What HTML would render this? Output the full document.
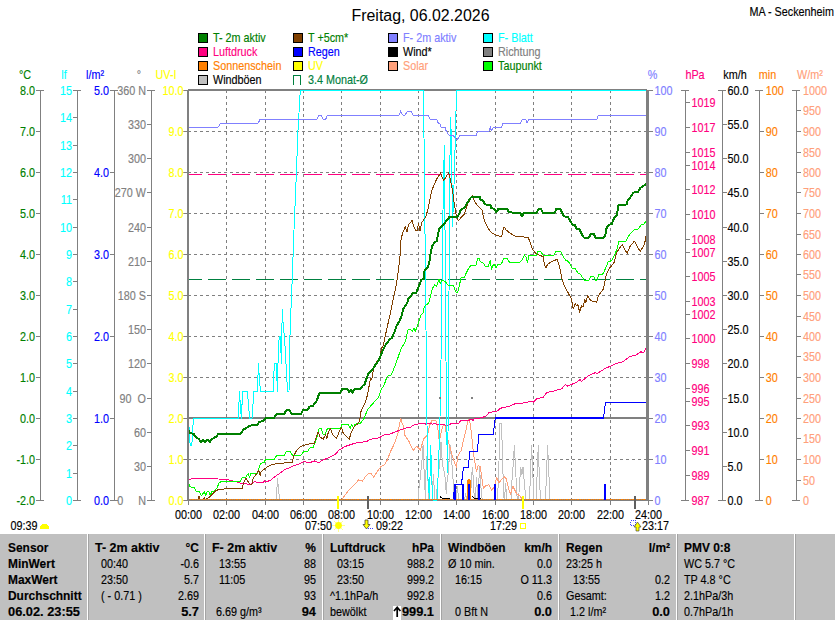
<!DOCTYPE html>
<html><head><meta charset="utf-8"><title>Wetter</title>
<style>
html,body{margin:0;padding:0;background:#fff;}
body{width:835px;height:620px;overflow:hidden;font-family:"Liberation Sans",sans-serif;}
svg{display:block;font-family:"Liberation Sans",sans-serif;}
text{white-space:pre;}
</style></head><body>
<svg width="835" height="620" viewBox="0 0 835 620">
<rect width="835" height="620" fill="#fff"/>
<text transform="translate(420.5 21) scale(0.995 1)" fill="#000" stroke="#000" stroke-width="0" text-anchor="middle" font-size="16" font-weight="normal" >Freitag, 06.02.2026</text>
<text transform="translate(834 16) scale(0.9 1)" fill="#000" stroke="#000" stroke-width="0.15" text-anchor="end" font-size="12" font-weight="normal" >MA - Seckenheim</text>
<rect x="198.5" y="33.5" width="9" height="9" fill="#008000" stroke="#000" stroke-width="1" shape-rendering="crispEdges"/>
<text transform="translate(213 42) scale(0.9 1)" fill="#008000" stroke="#008000" stroke-width="0.15" text-anchor="start" font-size="12" font-weight="normal" >T- 2m aktiv</text>
<rect x="198.5" y="47.5" width="9" height="9" fill="#ff0080" stroke="#000" stroke-width="1" shape-rendering="crispEdges"/>
<text transform="translate(213 56) scale(0.9 1)" fill="#ff0080" stroke="#ff0080" stroke-width="0.15" text-anchor="start" font-size="12" font-weight="normal" >Luftdruck</text>
<rect x="198.5" y="61.5" width="9" height="9" fill="#ff8000" stroke="#000" stroke-width="1" shape-rendering="crispEdges"/>
<text transform="translate(213 70) scale(0.9 1)" fill="#ff8000" stroke="#ff8000" stroke-width="0.15" text-anchor="start" font-size="12" font-weight="normal" >Sonnenschein</text>
<rect x="198.5" y="75.5" width="9" height="9" fill="#c0c0c0" stroke="#000" stroke-width="1" shape-rendering="crispEdges"/>
<text transform="translate(213 84) scale(0.9 1)" fill="#000" stroke="#000" stroke-width="0.15" text-anchor="start" font-size="12" font-weight="normal" >Windböen</text>
<rect x="293.5" y="33.5" width="9" height="9" fill="#804000" stroke="#000" stroke-width="1" shape-rendering="crispEdges"/>
<text transform="translate(308 42) scale(0.9 1)" fill="#008000" stroke="#008000" stroke-width="0.15" text-anchor="start" font-size="12" font-weight="normal" >T +5cm*</text>
<rect x="293.5" y="47.5" width="9" height="9" fill="#0000ff" stroke="#000" stroke-width="1" shape-rendering="crispEdges"/>
<text transform="translate(308 56) scale(0.9 1)" fill="#0000ff" stroke="#0000ff" stroke-width="0.15" text-anchor="start" font-size="12" font-weight="normal" >Regen</text>
<rect x="293.5" y="61.5" width="9" height="9" fill="#ffff00" stroke="#000" stroke-width="1" shape-rendering="crispEdges"/>
<text transform="translate(308 70) scale(0.9 1)" fill="#ffff00" stroke="#ffff00" stroke-width="0.15" text-anchor="start" font-size="12" font-weight="normal" >UV</text>
<path d="M293.5 84.5V75.5H300.5V84.5" fill="none" stroke="#008040" stroke-width="1" shape-rendering="crispEdges"/>
<text transform="translate(308 84) scale(0.9 1)" fill="#008040" stroke="#008040" stroke-width="0.15" text-anchor="start" font-size="12" font-weight="normal" >3.4 Monat-Ø</text>
<rect x="388.5" y="33.5" width="9" height="9" fill="#8080ff" stroke="#000" stroke-width="1" shape-rendering="crispEdges"/>
<text transform="translate(403 42) scale(0.9 1)" fill="#8080ff" stroke="#8080ff" stroke-width="0.15" text-anchor="start" font-size="12" font-weight="normal" >F- 2m aktiv</text>
<rect x="388.5" y="47.5" width="9" height="9" fill="#000" stroke="#000" stroke-width="1" shape-rendering="crispEdges"/>
<text transform="translate(403 56) scale(0.9 1)" fill="#000" stroke="#000" stroke-width="0.15" text-anchor="start" font-size="12" font-weight="normal" >Wind*</text>
<rect x="388.5" y="61.5" width="9" height="9" fill="#ffa07a" stroke="#000" stroke-width="1" shape-rendering="crispEdges"/>
<text transform="translate(403 70) scale(0.9 1)" fill="#ffa07a" stroke="#ffa07a" stroke-width="0.15" text-anchor="start" font-size="12" font-weight="normal" >Solar</text>
<rect x="483.5" y="33.5" width="9" height="9" fill="#00ffff" stroke="#000" stroke-width="1" shape-rendering="crispEdges"/>
<text transform="translate(498 42) scale(0.9 1)" fill="#00ffff" stroke="#00ffff" stroke-width="0.15" text-anchor="start" font-size="12" font-weight="normal" >F- Blatt</text>
<rect x="483.5" y="47.5" width="9" height="9" fill="#808080" stroke="#000" stroke-width="1" shape-rendering="crispEdges"/>
<text transform="translate(498 56) scale(0.9 1)" fill="#808080" stroke="#808080" stroke-width="0.15" text-anchor="start" font-size="12" font-weight="normal" >Richtung</text>
<rect x="483.5" y="61.5" width="9" height="9" fill="#00ff00" stroke="#000" stroke-width="1" shape-rendering="crispEdges"/>
<text transform="translate(498 70) scale(0.9 1)" fill="#008000" stroke="#008000" stroke-width="0.15" text-anchor="start" font-size="12" font-weight="normal" >Taupunkt</text>
<g shape-rendering="crispEdges">
<rect x="40" y="90" width="1" height="411" fill="#808080"/>
<rect x="36" y="90" width="8" height="1" fill="#808080"/>
<rect x="36" y="131" width="4" height="1" fill="#808080"/>
<rect x="36" y="172" width="4" height="1" fill="#808080"/>
<rect x="36" y="213" width="4" height="1" fill="#808080"/>
<rect x="36" y="254" width="4" height="1" fill="#808080"/>
<rect x="36" y="295" width="4" height="1" fill="#808080"/>
<rect x="36" y="336" width="4" height="1" fill="#808080"/>
<rect x="36" y="377" width="4" height="1" fill="#808080"/>
<rect x="36" y="418" width="4" height="1" fill="#808080"/>
<rect x="36" y="459" width="4" height="1" fill="#808080"/>
<rect x="36" y="500" width="8" height="1" fill="#808080"/>
</g>
<text transform="translate(35 94.5) scale(0.9 1)" fill="#008000" stroke="#008000" stroke-width="0.15" text-anchor="end" font-size="12" font-weight="normal" >8.0</text>
<text transform="translate(35 135.5) scale(0.9 1)" fill="#008000" stroke="#008000" stroke-width="0.15" text-anchor="end" font-size="12" font-weight="normal" >7.0</text>
<text transform="translate(35 176.5) scale(0.9 1)" fill="#008000" stroke="#008000" stroke-width="0.15" text-anchor="end" font-size="12" font-weight="normal" >6.0</text>
<text transform="translate(35 217.5) scale(0.9 1)" fill="#008000" stroke="#008000" stroke-width="0.15" text-anchor="end" font-size="12" font-weight="normal" >5.0</text>
<text transform="translate(35 258.5) scale(0.9 1)" fill="#008000" stroke="#008000" stroke-width="0.15" text-anchor="end" font-size="12" font-weight="normal" >4.0</text>
<text transform="translate(35 299.5) scale(0.9 1)" fill="#008000" stroke="#008000" stroke-width="0.15" text-anchor="end" font-size="12" font-weight="normal" >3.0</text>
<text transform="translate(35 340.5) scale(0.9 1)" fill="#008000" stroke="#008000" stroke-width="0.15" text-anchor="end" font-size="12" font-weight="normal" >2.0</text>
<text transform="translate(35 381.5) scale(0.9 1)" fill="#008000" stroke="#008000" stroke-width="0.15" text-anchor="end" font-size="12" font-weight="normal" >1.0</text>
<text transform="translate(35 422.5) scale(0.9 1)" fill="#008000" stroke="#008000" stroke-width="0.15" text-anchor="end" font-size="12" font-weight="normal" >0.0</text>
<text transform="translate(35 463.5) scale(0.9 1)" fill="#008000" stroke="#008000" stroke-width="0.15" text-anchor="end" font-size="12" font-weight="normal" >-1.0</text>
<text transform="translate(35 504.5) scale(0.9 1)" fill="#008000" stroke="#008000" stroke-width="0.15" text-anchor="end" font-size="12" font-weight="normal" >-2.0</text>
<text transform="translate(25 79) scale(0.9 1)" fill="#008000" stroke="#008000" stroke-width="0.15" text-anchor="middle" font-size="12" font-weight="normal" >°C</text>
<g shape-rendering="crispEdges">
<rect x="77" y="90" width="1" height="411" fill="#808080"/>
<rect x="73" y="90" width="8" height="1" fill="#808080"/>
<rect x="73" y="117" width="4" height="1" fill="#808080"/>
<rect x="73" y="145" width="4" height="1" fill="#808080"/>
<rect x="73" y="172" width="4" height="1" fill="#808080"/>
<rect x="73" y="199" width="4" height="1" fill="#808080"/>
<rect x="73" y="227" width="4" height="1" fill="#808080"/>
<rect x="73" y="254" width="4" height="1" fill="#808080"/>
<rect x="73" y="281" width="4" height="1" fill="#808080"/>
<rect x="73" y="309" width="4" height="1" fill="#808080"/>
<rect x="73" y="336" width="4" height="1" fill="#808080"/>
<rect x="73" y="363" width="4" height="1" fill="#808080"/>
<rect x="73" y="391" width="4" height="1" fill="#808080"/>
<rect x="73" y="418" width="4" height="1" fill="#808080"/>
<rect x="73" y="445" width="4" height="1" fill="#808080"/>
<rect x="73" y="473" width="4" height="1" fill="#808080"/>
<rect x="73" y="500" width="8" height="1" fill="#808080"/>
</g>
<text transform="translate(72 94.5) scale(0.9 1)" fill="#00ffff" stroke="#00ffff" stroke-width="0.15" text-anchor="end" font-size="12" font-weight="normal" >15</text>
<text transform="translate(72 121.5) scale(0.9 1)" fill="#00ffff" stroke="#00ffff" stroke-width="0.15" text-anchor="end" font-size="12" font-weight="normal" >14</text>
<text transform="translate(72 149.5) scale(0.9 1)" fill="#00ffff" stroke="#00ffff" stroke-width="0.15" text-anchor="end" font-size="12" font-weight="normal" >13</text>
<text transform="translate(72 176.5) scale(0.9 1)" fill="#00ffff" stroke="#00ffff" stroke-width="0.15" text-anchor="end" font-size="12" font-weight="normal" >12</text>
<text transform="translate(72 203.5) scale(0.9 1)" fill="#00ffff" stroke="#00ffff" stroke-width="0.15" text-anchor="end" font-size="12" font-weight="normal" >11</text>
<text transform="translate(72 231.5) scale(0.9 1)" fill="#00ffff" stroke="#00ffff" stroke-width="0.15" text-anchor="end" font-size="12" font-weight="normal" >10</text>
<text transform="translate(72 258.5) scale(0.9 1)" fill="#00ffff" stroke="#00ffff" stroke-width="0.15" text-anchor="end" font-size="12" font-weight="normal" >9</text>
<text transform="translate(72 285.5) scale(0.9 1)" fill="#00ffff" stroke="#00ffff" stroke-width="0.15" text-anchor="end" font-size="12" font-weight="normal" >8</text>
<text transform="translate(72 313.5) scale(0.9 1)" fill="#00ffff" stroke="#00ffff" stroke-width="0.15" text-anchor="end" font-size="12" font-weight="normal" >7</text>
<text transform="translate(72 340.5) scale(0.9 1)" fill="#00ffff" stroke="#00ffff" stroke-width="0.15" text-anchor="end" font-size="12" font-weight="normal" >6</text>
<text transform="translate(72 367.5) scale(0.9 1)" fill="#00ffff" stroke="#00ffff" stroke-width="0.15" text-anchor="end" font-size="12" font-weight="normal" >5</text>
<text transform="translate(72 395.5) scale(0.9 1)" fill="#00ffff" stroke="#00ffff" stroke-width="0.15" text-anchor="end" font-size="12" font-weight="normal" >4</text>
<text transform="translate(72 422.5) scale(0.9 1)" fill="#00ffff" stroke="#00ffff" stroke-width="0.15" text-anchor="end" font-size="12" font-weight="normal" >3</text>
<text transform="translate(72 449.5) scale(0.9 1)" fill="#00ffff" stroke="#00ffff" stroke-width="0.15" text-anchor="end" font-size="12" font-weight="normal" >2</text>
<text transform="translate(72 477.5) scale(0.9 1)" fill="#00ffff" stroke="#00ffff" stroke-width="0.15" text-anchor="end" font-size="12" font-weight="normal" >1</text>
<text transform="translate(72 504.5) scale(0.9 1)" fill="#00ffff" stroke="#00ffff" stroke-width="0.15" text-anchor="end" font-size="12" font-weight="normal" >0</text>
<text transform="translate(64 79) scale(0.9 1)" fill="#00ffff" stroke="#00ffff" stroke-width="0.15" text-anchor="middle" font-size="12" font-weight="normal" >lf</text>
<g shape-rendering="crispEdges">
<rect x="114" y="90" width="1" height="411" fill="#808080"/>
<rect x="110" y="90" width="8" height="1" fill="#808080"/>
<rect x="110" y="172" width="4" height="1" fill="#808080"/>
<rect x="110" y="254" width="4" height="1" fill="#808080"/>
<rect x="110" y="336" width="4" height="1" fill="#808080"/>
<rect x="110" y="418" width="4" height="1" fill="#808080"/>
<rect x="110" y="500" width="8" height="1" fill="#808080"/>
</g>
<text transform="translate(109 94.5) scale(0.9 1)" fill="#0000ff" stroke="#0000ff" stroke-width="0.15" text-anchor="end" font-size="12" font-weight="normal" >5.0</text>
<text transform="translate(109 176.5) scale(0.9 1)" fill="#0000ff" stroke="#0000ff" stroke-width="0.15" text-anchor="end" font-size="12" font-weight="normal" >4.0</text>
<text transform="translate(109 258.5) scale(0.9 1)" fill="#0000ff" stroke="#0000ff" stroke-width="0.15" text-anchor="end" font-size="12" font-weight="normal" >3.0</text>
<text transform="translate(109 340.5) scale(0.9 1)" fill="#0000ff" stroke="#0000ff" stroke-width="0.15" text-anchor="end" font-size="12" font-weight="normal" >2.0</text>
<text transform="translate(109 422.5) scale(0.9 1)" fill="#0000ff" stroke="#0000ff" stroke-width="0.15" text-anchor="end" font-size="12" font-weight="normal" >1.0</text>
<text transform="translate(109 504.5) scale(0.9 1)" fill="#0000ff" stroke="#0000ff" stroke-width="0.15" text-anchor="end" font-size="12" font-weight="normal" >0.0</text>
<text transform="translate(95 79) scale(0.9 1)" fill="#0000ff" stroke="#0000ff" stroke-width="0.15" text-anchor="middle" font-size="12" font-weight="normal" >l/m²</text>
<g shape-rendering="crispEdges">
<rect x="151" y="90" width="1" height="411" fill="#808080"/>
<rect x="147" y="90" width="8" height="1" fill="#808080"/>
<rect x="147" y="124" width="4" height="1" fill="#808080"/>
<rect x="147" y="158" width="4" height="1" fill="#808080"/>
<rect x="147" y="192" width="4" height="1" fill="#808080"/>
<rect x="147" y="227" width="4" height="1" fill="#808080"/>
<rect x="147" y="261" width="4" height="1" fill="#808080"/>
<rect x="147" y="295" width="4" height="1" fill="#808080"/>
<rect x="147" y="329" width="4" height="1" fill="#808080"/>
<rect x="147" y="363" width="4" height="1" fill="#808080"/>
<rect x="147" y="398" width="4" height="1" fill="#808080"/>
<rect x="147" y="432" width="4" height="1" fill="#808080"/>
<rect x="147" y="466" width="4" height="1" fill="#808080"/>
<rect x="147" y="500" width="8" height="1" fill="#808080"/>
</g>
<text transform="translate(146 94.5) scale(0.9 1)" fill="#808080" stroke="#808080" stroke-width="0.15" text-anchor="end" font-size="12" font-weight="normal" >360 N</text>
<text transform="translate(146 128.5) scale(0.9 1)" fill="#808080" stroke="#808080" stroke-width="0.15" text-anchor="end" font-size="12" font-weight="normal" >330</text>
<text transform="translate(146 162.5) scale(0.9 1)" fill="#808080" stroke="#808080" stroke-width="0.15" text-anchor="end" font-size="12" font-weight="normal" >300</text>
<text transform="translate(146 196.5) scale(0.9 1)" fill="#808080" stroke="#808080" stroke-width="0.15" text-anchor="end" font-size="12" font-weight="normal" >270 W</text>
<text transform="translate(146 231.5) scale(0.9 1)" fill="#808080" stroke="#808080" stroke-width="0.15" text-anchor="end" font-size="12" font-weight="normal" >240</text>
<text transform="translate(146 265.5) scale(0.9 1)" fill="#808080" stroke="#808080" stroke-width="0.15" text-anchor="end" font-size="12" font-weight="normal" >210</text>
<text transform="translate(146 299.5) scale(0.9 1)" fill="#808080" stroke="#808080" stroke-width="0.15" text-anchor="end" font-size="12" font-weight="normal" >180 S</text>
<text transform="translate(146 333.5) scale(0.9 1)" fill="#808080" stroke="#808080" stroke-width="0.15" text-anchor="end" font-size="12" font-weight="normal" >150</text>
<text transform="translate(146 367.5) scale(0.9 1)" fill="#808080" stroke="#808080" stroke-width="0.15" text-anchor="end" font-size="12" font-weight="normal" >120</text>
<text transform="translate(146 402.5) scale(0.9 1)" fill="#808080" stroke="#808080" stroke-width="0.15" text-anchor="end" font-size="12" font-weight="normal" >90  O</text>
<text transform="translate(146 436.5) scale(0.9 1)" fill="#808080" stroke="#808080" stroke-width="0.15" text-anchor="end" font-size="12" font-weight="normal" >60</text>
<text transform="translate(146 470.5) scale(0.9 1)" fill="#808080" stroke="#808080" stroke-width="0.15" text-anchor="end" font-size="12" font-weight="normal" >30</text>
<text transform="translate(146 504.5) scale(0.9 1)" fill="#808080" stroke="#808080" stroke-width="0.15" text-anchor="end" font-size="12" font-weight="normal" >0     N</text>
<text transform="translate(139 79) scale(0.9 1)" fill="#808080" stroke="#808080" stroke-width="0.15" text-anchor="middle" font-size="12" font-weight="normal" >°</text>
<g shape-rendering="crispEdges">
<rect x="183" y="90" width="5" height="1" fill="#808080"/>
<rect x="183" y="131" width="5" height="1" fill="#808080"/>
<rect x="183" y="172" width="5" height="1" fill="#808080"/>
<rect x="183" y="213" width="5" height="1" fill="#808080"/>
<rect x="183" y="254" width="5" height="1" fill="#808080"/>
<rect x="183" y="295" width="5" height="1" fill="#808080"/>
<rect x="183" y="336" width="5" height="1" fill="#808080"/>
<rect x="183" y="377" width="5" height="1" fill="#808080"/>
<rect x="183" y="418" width="5" height="1" fill="#808080"/>
<rect x="183" y="459" width="5" height="1" fill="#808080"/>
<rect x="183" y="500" width="5" height="1" fill="#808080"/>
</g>
<text transform="translate(183.4 94.5) scale(0.9 1)" fill="#ffff00" stroke="#ffff00" stroke-width="0.15" text-anchor="end" font-size="12" font-weight="normal" >10.0</text>
<text transform="translate(183.4 135.5) scale(0.9 1)" fill="#ffff00" stroke="#ffff00" stroke-width="0.15" text-anchor="end" font-size="12" font-weight="normal" >9.0</text>
<text transform="translate(183.4 176.5) scale(0.9 1)" fill="#ffff00" stroke="#ffff00" stroke-width="0.15" text-anchor="end" font-size="12" font-weight="normal" >8.0</text>
<text transform="translate(183.4 217.5) scale(0.9 1)" fill="#ffff00" stroke="#ffff00" stroke-width="0.15" text-anchor="end" font-size="12" font-weight="normal" >7.0</text>
<text transform="translate(183.4 258.5) scale(0.9 1)" fill="#ffff00" stroke="#ffff00" stroke-width="0.15" text-anchor="end" font-size="12" font-weight="normal" >6.0</text>
<text transform="translate(183.4 299.5) scale(0.9 1)" fill="#ffff00" stroke="#ffff00" stroke-width="0.15" text-anchor="end" font-size="12" font-weight="normal" >5.0</text>
<text transform="translate(183.4 340.5) scale(0.9 1)" fill="#ffff00" stroke="#ffff00" stroke-width="0.15" text-anchor="end" font-size="12" font-weight="normal" >4.0</text>
<text transform="translate(183.4 381.5) scale(0.9 1)" fill="#ffff00" stroke="#ffff00" stroke-width="0.15" text-anchor="end" font-size="12" font-weight="normal" >3.0</text>
<text transform="translate(183.4 422.5) scale(0.9 1)" fill="#ffff00" stroke="#ffff00" stroke-width="0.15" text-anchor="end" font-size="12" font-weight="normal" >2.0</text>
<text transform="translate(183.4 463.5) scale(0.9 1)" fill="#ffff00" stroke="#ffff00" stroke-width="0.15" text-anchor="end" font-size="12" font-weight="normal" >1.0</text>
<text transform="translate(183.4 504.5) scale(0.9 1)" fill="#ffff00" stroke="#ffff00" stroke-width="0.15" text-anchor="end" font-size="12" font-weight="normal" >0.0</text>
<text transform="translate(166 79) scale(0.9 1)" fill="#ffff00" stroke="#ffff00" stroke-width="0.15" text-anchor="middle" font-size="12" font-weight="normal" >UV-I</text>
<g shape-rendering="crispEdges">
<rect x="649" y="90" width="4" height="1" fill="#808080"/>
<rect x="649" y="131" width="4" height="1" fill="#808080"/>
<rect x="649" y="172" width="4" height="1" fill="#808080"/>
<rect x="649" y="213" width="4" height="1" fill="#808080"/>
<rect x="649" y="254" width="4" height="1" fill="#808080"/>
<rect x="649" y="295" width="4" height="1" fill="#808080"/>
<rect x="649" y="336" width="4" height="1" fill="#808080"/>
<rect x="649" y="377" width="4" height="1" fill="#808080"/>
<rect x="649" y="418" width="4" height="1" fill="#808080"/>
<rect x="649" y="459" width="4" height="1" fill="#808080"/>
<rect x="649" y="500" width="4" height="1" fill="#808080"/>
</g>
<text transform="translate(654.4 94.5) scale(0.9 1)" fill="#8080ff" stroke="#8080ff" stroke-width="0.15" text-anchor="start" font-size="12" font-weight="normal" >100</text>
<text transform="translate(654.4 135.5) scale(0.9 1)" fill="#8080ff" stroke="#8080ff" stroke-width="0.15" text-anchor="start" font-size="12" font-weight="normal" >90</text>
<text transform="translate(654.4 176.5) scale(0.9 1)" fill="#8080ff" stroke="#8080ff" stroke-width="0.15" text-anchor="start" font-size="12" font-weight="normal" >80</text>
<text transform="translate(654.4 217.5) scale(0.9 1)" fill="#8080ff" stroke="#8080ff" stroke-width="0.15" text-anchor="start" font-size="12" font-weight="normal" >70</text>
<text transform="translate(654.4 258.5) scale(0.9 1)" fill="#8080ff" stroke="#8080ff" stroke-width="0.15" text-anchor="start" font-size="12" font-weight="normal" >60</text>
<text transform="translate(654.4 299.5) scale(0.9 1)" fill="#8080ff" stroke="#8080ff" stroke-width="0.15" text-anchor="start" font-size="12" font-weight="normal" >50</text>
<text transform="translate(654.4 340.5) scale(0.9 1)" fill="#8080ff" stroke="#8080ff" stroke-width="0.15" text-anchor="start" font-size="12" font-weight="normal" >40</text>
<text transform="translate(654.4 381.5) scale(0.9 1)" fill="#8080ff" stroke="#8080ff" stroke-width="0.15" text-anchor="start" font-size="12" font-weight="normal" >30</text>
<text transform="translate(654.4 422.5) scale(0.9 1)" fill="#8080ff" stroke="#8080ff" stroke-width="0.15" text-anchor="start" font-size="12" font-weight="normal" >20</text>
<text transform="translate(654.4 463.5) scale(0.9 1)" fill="#8080ff" stroke="#8080ff" stroke-width="0.15" text-anchor="start" font-size="12" font-weight="normal" >10</text>
<text transform="translate(654.4 504.5) scale(0.9 1)" fill="#8080ff" stroke="#8080ff" stroke-width="0.15" text-anchor="start" font-size="12" font-weight="normal" >0</text>
<text transform="translate(652.5 79) scale(0.9 1)" fill="#8080ff" stroke="#8080ff" stroke-width="0.15" text-anchor="middle" font-size="12" font-weight="normal" >%</text>
<g shape-rendering="crispEdges">
<rect x="685" y="90" width="1" height="411" fill="#808080"/>
<rect x="681" y="90" width="8" height="1" fill="#808080"/>
<rect x="681" y="500" width="8" height="1" fill="#808080"/>
<rect x="685" y="102" width="5" height="1" fill="#808080"/>
<rect x="685" y="127" width="5" height="1" fill="#808080"/>
<rect x="685" y="152" width="5" height="1" fill="#808080"/>
<rect x="685" y="165" width="5" height="1" fill="#808080"/>
<rect x="685" y="189" width="5" height="1" fill="#808080"/>
<rect x="685" y="214" width="5" height="1" fill="#808080"/>
<rect x="685" y="239" width="5" height="1" fill="#808080"/>
<rect x="685" y="252" width="5" height="1" fill="#808080"/>
<rect x="685" y="276" width="5" height="1" fill="#808080"/>
<rect x="685" y="301" width="5" height="1" fill="#808080"/>
<rect x="685" y="314" width="5" height="1" fill="#808080"/>
<rect x="685" y="338" width="5" height="1" fill="#808080"/>
<rect x="685" y="363" width="5" height="1" fill="#808080"/>
<rect x="685" y="388" width="5" height="1" fill="#808080"/>
<rect x="685" y="401" width="5" height="1" fill="#808080"/>
<rect x="685" y="425" width="5" height="1" fill="#808080"/>
<rect x="685" y="450" width="5" height="1" fill="#808080"/>
<rect x="685" y="475" width="5" height="1" fill="#808080"/>
</g>
<text transform="translate(691.4 106.5) scale(0.9 1)" fill="#ff0080" stroke="#ff0080" stroke-width="0.15" text-anchor="start" font-size="12" font-weight="normal" >1019</text>
<text transform="translate(691.4 131.5) scale(0.9 1)" fill="#ff0080" stroke="#ff0080" stroke-width="0.15" text-anchor="start" font-size="12" font-weight="normal" >1017</text>
<text transform="translate(691.4 156.5) scale(0.9 1)" fill="#ff0080" stroke="#ff0080" stroke-width="0.15" text-anchor="start" font-size="12" font-weight="normal" >1015</text>
<text transform="translate(691.4 169.5) scale(0.9 1)" fill="#ff0080" stroke="#ff0080" stroke-width="0.15" text-anchor="start" font-size="12" font-weight="normal" >1014</text>
<text transform="translate(691.4 193.5) scale(0.9 1)" fill="#ff0080" stroke="#ff0080" stroke-width="0.15" text-anchor="start" font-size="12" font-weight="normal" >1012</text>
<text transform="translate(691.4 218.5) scale(0.9 1)" fill="#ff0080" stroke="#ff0080" stroke-width="0.15" text-anchor="start" font-size="12" font-weight="normal" >1010</text>
<text transform="translate(691.4 243.5) scale(0.9 1)" fill="#ff0080" stroke="#ff0080" stroke-width="0.15" text-anchor="start" font-size="12" font-weight="normal" >1008</text>
<text transform="translate(691.4 256.5) scale(0.9 1)" fill="#ff0080" stroke="#ff0080" stroke-width="0.15" text-anchor="start" font-size="12" font-weight="normal" >1007</text>
<text transform="translate(691.4 280.5) scale(0.9 1)" fill="#ff0080" stroke="#ff0080" stroke-width="0.15" text-anchor="start" font-size="12" font-weight="normal" >1005</text>
<text transform="translate(691.4 305.5) scale(0.9 1)" fill="#ff0080" stroke="#ff0080" stroke-width="0.15" text-anchor="start" font-size="12" font-weight="normal" >1003</text>
<text transform="translate(691.4 318.5) scale(0.9 1)" fill="#ff0080" stroke="#ff0080" stroke-width="0.15" text-anchor="start" font-size="12" font-weight="normal" >1002</text>
<text transform="translate(691.4 342.5) scale(0.9 1)" fill="#ff0080" stroke="#ff0080" stroke-width="0.15" text-anchor="start" font-size="12" font-weight="normal" >1000</text>
<text transform="translate(691.4 367.5) scale(0.9 1)" fill="#ff0080" stroke="#ff0080" stroke-width="0.15" text-anchor="start" font-size="12" font-weight="normal" >998</text>
<text transform="translate(691.4 392.5) scale(0.9 1)" fill="#ff0080" stroke="#ff0080" stroke-width="0.15" text-anchor="start" font-size="12" font-weight="normal" >996</text>
<text transform="translate(691.4 405.5) scale(0.9 1)" fill="#ff0080" stroke="#ff0080" stroke-width="0.15" text-anchor="start" font-size="12" font-weight="normal" >995</text>
<text transform="translate(691.4 429.5) scale(0.9 1)" fill="#ff0080" stroke="#ff0080" stroke-width="0.15" text-anchor="start" font-size="12" font-weight="normal" >993</text>
<text transform="translate(691.4 454.5) scale(0.9 1)" fill="#ff0080" stroke="#ff0080" stroke-width="0.15" text-anchor="start" font-size="12" font-weight="normal" >991</text>
<text transform="translate(691.4 479.5) scale(0.9 1)" fill="#ff0080" stroke="#ff0080" stroke-width="0.15" text-anchor="start" font-size="12" font-weight="normal" >989</text>
<text transform="translate(691.4 504.5) scale(0.9 1)" fill="#ff0080" stroke="#ff0080" stroke-width="0.15" text-anchor="start" font-size="12" font-weight="normal" >987</text>
<text transform="translate(695 79) scale(0.9 1)" fill="#ff0080" stroke="#ff0080" stroke-width="0.15" text-anchor="middle" font-size="12" font-weight="normal" >hPa</text>
<g shape-rendering="crispEdges">
<rect x="722" y="90" width="1" height="411" fill="#808080"/>
<rect x="718" y="90" width="8" height="1" fill="#808080"/>
<rect x="718" y="500" width="8" height="1" fill="#808080"/>
<rect x="722" y="124" width="5" height="1" fill="#808080"/>
<rect x="722" y="158" width="5" height="1" fill="#808080"/>
<rect x="722" y="192" width="5" height="1" fill="#808080"/>
<rect x="722" y="227" width="5" height="1" fill="#808080"/>
<rect x="722" y="261" width="5" height="1" fill="#808080"/>
<rect x="722" y="295" width="5" height="1" fill="#808080"/>
<rect x="722" y="329" width="5" height="1" fill="#808080"/>
<rect x="722" y="363" width="5" height="1" fill="#808080"/>
<rect x="722" y="398" width="5" height="1" fill="#808080"/>
<rect x="722" y="432" width="5" height="1" fill="#808080"/>
<rect x="722" y="466" width="5" height="1" fill="#808080"/>
</g>
<text transform="translate(727.4 94.5) scale(0.9 1)" fill="#000" stroke="#000" stroke-width="0.15" text-anchor="start" font-size="12" font-weight="normal" >60.0</text>
<text transform="translate(727.4 128.5) scale(0.9 1)" fill="#000" stroke="#000" stroke-width="0.15" text-anchor="start" font-size="12" font-weight="normal" >55.0</text>
<text transform="translate(727.4 162.5) scale(0.9 1)" fill="#000" stroke="#000" stroke-width="0.15" text-anchor="start" font-size="12" font-weight="normal" >50.0</text>
<text transform="translate(727.4 196.5) scale(0.9 1)" fill="#000" stroke="#000" stroke-width="0.15" text-anchor="start" font-size="12" font-weight="normal" >45.0</text>
<text transform="translate(727.4 231.5) scale(0.9 1)" fill="#000" stroke="#000" stroke-width="0.15" text-anchor="start" font-size="12" font-weight="normal" >40.0</text>
<text transform="translate(727.4 265.5) scale(0.9 1)" fill="#000" stroke="#000" stroke-width="0.15" text-anchor="start" font-size="12" font-weight="normal" >35.0</text>
<text transform="translate(727.4 299.5) scale(0.9 1)" fill="#000" stroke="#000" stroke-width="0.15" text-anchor="start" font-size="12" font-weight="normal" >30.0</text>
<text transform="translate(727.4 333.5) scale(0.9 1)" fill="#000" stroke="#000" stroke-width="0.15" text-anchor="start" font-size="12" font-weight="normal" >25.0</text>
<text transform="translate(727.4 367.5) scale(0.9 1)" fill="#000" stroke="#000" stroke-width="0.15" text-anchor="start" font-size="12" font-weight="normal" >20.0</text>
<text transform="translate(727.4 402.5) scale(0.9 1)" fill="#000" stroke="#000" stroke-width="0.15" text-anchor="start" font-size="12" font-weight="normal" >15.0</text>
<text transform="translate(727.4 436.5) scale(0.9 1)" fill="#000" stroke="#000" stroke-width="0.15" text-anchor="start" font-size="12" font-weight="normal" >10.0</text>
<text transform="translate(727.4 470.5) scale(0.9 1)" fill="#000" stroke="#000" stroke-width="0.15" text-anchor="start" font-size="12" font-weight="normal" >5.0</text>
<text transform="translate(727.4 504.5) scale(0.9 1)" fill="#000" stroke="#000" stroke-width="0.15" text-anchor="start" font-size="12" font-weight="normal" >0.0</text>
<text transform="translate(735 79) scale(0.9 1)" fill="#000" stroke="#000" stroke-width="0.15" text-anchor="middle" font-size="12" font-weight="normal" >km/h</text>
<g shape-rendering="crispEdges">
<rect x="759" y="90" width="1" height="411" fill="#808080"/>
<rect x="755" y="90" width="8" height="1" fill="#808080"/>
<rect x="755" y="500" width="8" height="1" fill="#808080"/>
<rect x="759" y="131" width="5" height="1" fill="#808080"/>
<rect x="759" y="172" width="5" height="1" fill="#808080"/>
<rect x="759" y="213" width="5" height="1" fill="#808080"/>
<rect x="759" y="254" width="5" height="1" fill="#808080"/>
<rect x="759" y="295" width="5" height="1" fill="#808080"/>
<rect x="759" y="336" width="5" height="1" fill="#808080"/>
<rect x="759" y="377" width="5" height="1" fill="#808080"/>
<rect x="759" y="418" width="5" height="1" fill="#808080"/>
<rect x="759" y="459" width="5" height="1" fill="#808080"/>
</g>
<text transform="translate(765.8 94.5) scale(0.9 1)" fill="#ff8000" stroke="#ff8000" stroke-width="0.15" text-anchor="start" font-size="12" font-weight="normal" >100</text>
<text transform="translate(765.8 135.5) scale(0.9 1)" fill="#ff8000" stroke="#ff8000" stroke-width="0.15" text-anchor="start" font-size="12" font-weight="normal" >90</text>
<text transform="translate(765.8 176.5) scale(0.9 1)" fill="#ff8000" stroke="#ff8000" stroke-width="0.15" text-anchor="start" font-size="12" font-weight="normal" >80</text>
<text transform="translate(765.8 217.5) scale(0.9 1)" fill="#ff8000" stroke="#ff8000" stroke-width="0.15" text-anchor="start" font-size="12" font-weight="normal" >70</text>
<text transform="translate(765.8 258.5) scale(0.9 1)" fill="#ff8000" stroke="#ff8000" stroke-width="0.15" text-anchor="start" font-size="12" font-weight="normal" >60</text>
<text transform="translate(765.8 299.5) scale(0.9 1)" fill="#ff8000" stroke="#ff8000" stroke-width="0.15" text-anchor="start" font-size="12" font-weight="normal" >50</text>
<text transform="translate(765.8 340.5) scale(0.9 1)" fill="#ff8000" stroke="#ff8000" stroke-width="0.15" text-anchor="start" font-size="12" font-weight="normal" >40</text>
<text transform="translate(765.8 381.5) scale(0.9 1)" fill="#ff8000" stroke="#ff8000" stroke-width="0.15" text-anchor="start" font-size="12" font-weight="normal" >30</text>
<text transform="translate(765.8 422.5) scale(0.9 1)" fill="#ff8000" stroke="#ff8000" stroke-width="0.15" text-anchor="start" font-size="12" font-weight="normal" >20</text>
<text transform="translate(765.8 463.5) scale(0.9 1)" fill="#ff8000" stroke="#ff8000" stroke-width="0.15" text-anchor="start" font-size="12" font-weight="normal" >10</text>
<text transform="translate(765.8 504.5) scale(0.9 1)" fill="#ff8000" stroke="#ff8000" stroke-width="0.15" text-anchor="start" font-size="12" font-weight="normal" >0</text>
<text transform="translate(767.5 79) scale(0.9 1)" fill="#ff8000" stroke="#ff8000" stroke-width="0.15" text-anchor="middle" font-size="12" font-weight="normal" >min</text>
<g shape-rendering="crispEdges">
<rect x="796" y="90" width="1" height="411" fill="#808080"/>
<rect x="792" y="90" width="8" height="1" fill="#808080"/>
<rect x="792" y="500" width="8" height="1" fill="#808080"/>
<rect x="796" y="110" width="5" height="1" fill="#808080"/>
<rect x="796" y="131" width="5" height="1" fill="#808080"/>
<rect x="796" y="152" width="5" height="1" fill="#808080"/>
<rect x="796" y="172" width="5" height="1" fill="#808080"/>
<rect x="796" y="192" width="5" height="1" fill="#808080"/>
<rect x="796" y="213" width="5" height="1" fill="#808080"/>
<rect x="796" y="234" width="5" height="1" fill="#808080"/>
<rect x="796" y="254" width="5" height="1" fill="#808080"/>
<rect x="796" y="274" width="5" height="1" fill="#808080"/>
<rect x="796" y="295" width="5" height="1" fill="#808080"/>
<rect x="796" y="316" width="5" height="1" fill="#808080"/>
<rect x="796" y="336" width="5" height="1" fill="#808080"/>
<rect x="796" y="356" width="5" height="1" fill="#808080"/>
<rect x="796" y="377" width="5" height="1" fill="#808080"/>
<rect x="796" y="398" width="5" height="1" fill="#808080"/>
<rect x="796" y="418" width="5" height="1" fill="#808080"/>
<rect x="796" y="438" width="5" height="1" fill="#808080"/>
<rect x="796" y="459" width="5" height="1" fill="#808080"/>
<rect x="796" y="480" width="5" height="1" fill="#808080"/>
</g>
<text transform="translate(802.9 94.5) scale(0.9 1)" fill="#ffa07a" stroke="#ffa07a" stroke-width="0.15" text-anchor="start" font-size="12" font-weight="normal" >1000</text>
<text transform="translate(802.9 114.5) scale(0.9 1)" fill="#ffa07a" stroke="#ffa07a" stroke-width="0.15" text-anchor="start" font-size="12" font-weight="normal" >950</text>
<text transform="translate(802.9 135.5) scale(0.9 1)" fill="#ffa07a" stroke="#ffa07a" stroke-width="0.15" text-anchor="start" font-size="12" font-weight="normal" >900</text>
<text transform="translate(802.9 156.5) scale(0.9 1)" fill="#ffa07a" stroke="#ffa07a" stroke-width="0.15" text-anchor="start" font-size="12" font-weight="normal" >850</text>
<text transform="translate(802.9 176.5) scale(0.9 1)" fill="#ffa07a" stroke="#ffa07a" stroke-width="0.15" text-anchor="start" font-size="12" font-weight="normal" >800</text>
<text transform="translate(802.9 196.5) scale(0.9 1)" fill="#ffa07a" stroke="#ffa07a" stroke-width="0.15" text-anchor="start" font-size="12" font-weight="normal" >750</text>
<text transform="translate(802.9 217.5) scale(0.9 1)" fill="#ffa07a" stroke="#ffa07a" stroke-width="0.15" text-anchor="start" font-size="12" font-weight="normal" >700</text>
<text transform="translate(802.9 238.5) scale(0.9 1)" fill="#ffa07a" stroke="#ffa07a" stroke-width="0.15" text-anchor="start" font-size="12" font-weight="normal" >650</text>
<text transform="translate(802.9 258.5) scale(0.9 1)" fill="#ffa07a" stroke="#ffa07a" stroke-width="0.15" text-anchor="start" font-size="12" font-weight="normal" >600</text>
<text transform="translate(802.9 278.5) scale(0.9 1)" fill="#ffa07a" stroke="#ffa07a" stroke-width="0.15" text-anchor="start" font-size="12" font-weight="normal" >550</text>
<text transform="translate(802.9 299.5) scale(0.9 1)" fill="#ffa07a" stroke="#ffa07a" stroke-width="0.15" text-anchor="start" font-size="12" font-weight="normal" >500</text>
<text transform="translate(802.9 320.5) scale(0.9 1)" fill="#ffa07a" stroke="#ffa07a" stroke-width="0.15" text-anchor="start" font-size="12" font-weight="normal" >450</text>
<text transform="translate(802.9 340.5) scale(0.9 1)" fill="#ffa07a" stroke="#ffa07a" stroke-width="0.15" text-anchor="start" font-size="12" font-weight="normal" >400</text>
<text transform="translate(802.9 360.5) scale(0.9 1)" fill="#ffa07a" stroke="#ffa07a" stroke-width="0.15" text-anchor="start" font-size="12" font-weight="normal" >350</text>
<text transform="translate(802.9 381.5) scale(0.9 1)" fill="#ffa07a" stroke="#ffa07a" stroke-width="0.15" text-anchor="start" font-size="12" font-weight="normal" >300</text>
<text transform="translate(802.9 402.5) scale(0.9 1)" fill="#ffa07a" stroke="#ffa07a" stroke-width="0.15" text-anchor="start" font-size="12" font-weight="normal" >250</text>
<text transform="translate(802.9 422.5) scale(0.9 1)" fill="#ffa07a" stroke="#ffa07a" stroke-width="0.15" text-anchor="start" font-size="12" font-weight="normal" >200</text>
<text transform="translate(802.9 442.5) scale(0.9 1)" fill="#ffa07a" stroke="#ffa07a" stroke-width="0.15" text-anchor="start" font-size="12" font-weight="normal" >150</text>
<text transform="translate(802.9 463.5) scale(0.9 1)" fill="#ffa07a" stroke="#ffa07a" stroke-width="0.15" text-anchor="start" font-size="12" font-weight="normal" >100</text>
<text transform="translate(802.9 484.5) scale(0.9 1)" fill="#ffa07a" stroke="#ffa07a" stroke-width="0.15" text-anchor="start" font-size="12" font-weight="normal" >50</text>
<text transform="translate(802.9 504.5) scale(0.9 1)" fill="#ffa07a" stroke="#ffa07a" stroke-width="0.15" text-anchor="start" font-size="12" font-weight="normal" >0</text>
<text transform="translate(810 79) scale(0.9 1)" fill="#ffa07a" stroke="#ffa07a" stroke-width="0.15" text-anchor="middle" font-size="12" font-weight="normal" >W/m²</text>
<g shape-rendering="crispEdges">
</g>
<g shape-rendering="crispEdges">
<line x1="188" x2="647" y1="131.5" y2="131.5" stroke="#808080" stroke-width="1" stroke-dasharray="3 3"/>
<line x1="188" x2="647" y1="172.5" y2="172.5" stroke="#808080" stroke-width="1" stroke-dasharray="3 3"/>
<line x1="188" x2="647" y1="213.5" y2="213.5" stroke="#808080" stroke-width="1" stroke-dasharray="3 3"/>
<line x1="188" x2="647" y1="254.5" y2="254.5" stroke="#808080" stroke-width="1" stroke-dasharray="3 3"/>
<line x1="188" x2="647" y1="295.5" y2="295.5" stroke="#808080" stroke-width="1" stroke-dasharray="3 3"/>
<line x1="188" x2="647" y1="336.5" y2="336.5" stroke="#808080" stroke-width="1" stroke-dasharray="3 3"/>
<line x1="188" x2="647" y1="377.5" y2="377.5" stroke="#808080" stroke-width="1" stroke-dasharray="3 3"/>
<line x1="188" x2="647" y1="418.5" y2="418.5" stroke="#808080" stroke-width="1" stroke-dasharray="3 3"/>
<line x1="188" x2="647" y1="459.5" y2="459.5" stroke="#808080" stroke-width="1" stroke-dasharray="3 3"/>
<line x1="226.5" x2="226.5" y1="90" y2="500" stroke="#808080" stroke-width="1" stroke-dasharray="3 3"/>
<line x1="265.5" x2="265.5" y1="90" y2="500" stroke="#808080" stroke-width="1" stroke-dasharray="3 3"/>
<line x1="303.5" x2="303.5" y1="90" y2="500" stroke="#808080" stroke-width="1" stroke-dasharray="3 3"/>
<line x1="341.5" x2="341.5" y1="90" y2="500" stroke="#808080" stroke-width="1" stroke-dasharray="3 3"/>
<line x1="380.5" x2="380.5" y1="90" y2="500" stroke="#808080" stroke-width="1" stroke-dasharray="3 3"/>
<line x1="418.5" x2="418.5" y1="90" y2="500" stroke="#808080" stroke-width="1" stroke-dasharray="3 3"/>
<line x1="456.5" x2="456.5" y1="90" y2="500" stroke="#808080" stroke-width="1" stroke-dasharray="3 3"/>
<line x1="495.5" x2="495.5" y1="90" y2="500" stroke="#808080" stroke-width="1" stroke-dasharray="3 3"/>
<line x1="533.5" x2="533.5" y1="90" y2="500" stroke="#808080" stroke-width="1" stroke-dasharray="3 3"/>
<line x1="571.5" x2="571.5" y1="90" y2="500" stroke="#808080" stroke-width="1" stroke-dasharray="3 3"/>
<line x1="610.5" x2="610.5" y1="90" y2="500" stroke="#808080" stroke-width="1" stroke-dasharray="3 3"/>
</g>
<clipPath id="pc"><rect x="188" y="89" width="461" height="412"/></clipPath>
<g clip-path="url(#pc)" shape-rendering="crispEdges">
<rect x="188" y="89" width="459" height="2" fill="#808080"/>
<line x1="184" x2="647" y1="174.5" y2="174.5" stroke="#ff0080" stroke-width="1" stroke-dasharray="18 6"/>
<line x1="184" x2="647" y1="279.5" y2="279.5" stroke="#008040" stroke-width="1" stroke-dasharray="18 6"/>
<rect x="188" y="417" width="459" height="2" fill="#808080"/>
<rect x="188" y="500" width="459" height="1" fill="#808080"/>
<polyline points="276.2,499.5 277.6,478.0 278.4,489.0 279.6,499.5" fill="none" stroke="#c0c0c0" stroke-width="1" stroke-linejoin="round" />
<polyline points="418.2,499.5 419.3,484.0 420.2,478.7 422.1,459.3 423.1,445.3 424.0,469.0 425.0,490.0 425.5,499.5" fill="none" stroke="#c0c0c0" stroke-width="1" stroke-linejoin="round" />
<polyline points="425.2,499.5 426.4,456.0 427.4,470.0 428.4,488.0 429.0,499.5" fill="none" stroke="#c0c0c0" stroke-width="1" stroke-linejoin="round" />
<polyline points="432.0,499.5 433.4,474.0 434.8,499.5" fill="none" stroke="#c0c0c0" stroke-width="1" stroke-linejoin="round" />
<polyline points="436.1,499.5 438.0,478.7 440.0,459.3 441.0,442.0 442.4,464.2 444.8,473.8 446.3,494.0 447.2,478.7 448.2,473.8 450.1,445.3 451.6,459.3 453.0,478.7 454.0,499.5" fill="none" stroke="#c0c0c0" stroke-width="1" stroke-linejoin="round" />
<polyline points="456.2,499.5 457.4,486.0 458.6,499.5" fill="none" stroke="#c0c0c0" stroke-width="1" stroke-linejoin="round" />
<polyline points="464.6,499.5 465.6,494.0 466.6,499.5" fill="none" stroke="#c0c0c0" stroke-width="1" stroke-linejoin="round" />
<polyline points="470.4,499.5 471.4,480.0 472.4,467.3 473.4,480.0 474.3,499.5" fill="none" stroke="#c0c0c0" stroke-width="1" stroke-linejoin="round" />
<polyline points="475.2,499.5 476.6,477.8 477.8,499.5" fill="none" stroke="#c0c0c0" stroke-width="1" stroke-linejoin="round" />
<polyline points="478.0,499.5 479.5,467.6 481.0,488.0 482.2,499.5" fill="none" stroke="#c0c0c0" stroke-width="1" stroke-linejoin="round" />
<polyline points="497.6,499.5 499.0,461.4 499.9,423.4 501.2,423.4 502.2,444.0 503.2,480.0 504.1,499.5" fill="none" stroke="#c0c0c0" stroke-width="1" stroke-linejoin="round" />
<polyline points="504.5,499.5 505.6,483.0 506.8,499.5" fill="none" stroke="#c0c0c0" stroke-width="1" stroke-linejoin="round" />
<polyline points="511.4,499.5 512.1,477.4 513.5,461.0 514.3,445.5 515.2,461.0 516.0,477.4 517.2,499.5" fill="none" stroke="#c0c0c0" stroke-width="1" stroke-linejoin="round" />
<polyline points="518.6,499.5 519.5,484.0 520.8,467.3 522.0,474.6 523.0,467.3 524.5,484.0 525.9,499.5" fill="none" stroke="#c0c0c0" stroke-width="1" stroke-linejoin="round" />
<polyline points="529.5,499.5 530.5,473.0 531.6,445.5 532.8,473.0 533.9,499.5" fill="none" stroke="#c0c0c0" stroke-width="1" stroke-linejoin="round" />
<polyline points="536.0,499.5 537.2,473.0 538.3,445.5 539.2,473.0 539.9,487.0 540.4,499.5" fill="none" stroke="#c0c0c0" stroke-width="1" stroke-linejoin="round" />
<polyline points="545.5,499.5 546.5,473.0 547.6,445.5 548.8,473.0 549.6,487.0 550.0,499.5" fill="none" stroke="#c0c0c0" stroke-width="1" stroke-linejoin="round" />
<polyline points="342.1,499.4 346.4,493.2 350.1,488.8 354.4,484.5 358.8,479.8 362.4,481.3 366.0,475.8 368.9,472.9 371.1,473.6 373.7,477.2 376.9,472.2 380.5,467.1 384.2,464.9 387.1,460.5 390.7,451.1 395.0,442.4 397.9,433.7 399.4,425.0 400.8,418.3 402.3,424.2 403.3,425.0 404.8,435.2 408.8,441.0 411.7,447.5 413.5,450.4 416.7,446.0 420.5,450.2 423.4,439.3 427.6,435.1 429.7,425.1 431.8,420.9 433.5,420.2 436.4,421.3 437.7,426.8 439.3,441.9 440.6,435.1 442.3,427.6 443.9,424.7 445.2,426.3 446.0,431.8 449.4,445.2 451.9,454.4 453.5,459.8 456.4,467.1 457.8,456.2 459.5,452.8 461.1,451.1 463.6,439.3 466.2,429.3 467.8,420.9 469.1,419.6 470.4,424.2 472.0,439.3 473.6,454.2 476.5,471.6 478.0,465.8 480.2,466.5 481.6,476.0 483.4,488.3 486.0,485.4 488.9,484.7 491.8,490.5 494.0,486.9 496.9,477.4 499.0,483.2 501.2,479.6 504.1,476.7 506.3,478.9 509.2,490.5 510.6,494.1 512.8,486.1 516.5,493.4 520.1,496.3 522.3,499.4" fill="none" stroke="#ffa07a" stroke-width="1" stroke-linejoin="round" />
<polyline points="188.6,479.4 193.7,478.7 199.5,479.0 211.1,478.4 218.4,479.0 228.5,479.8 234.3,481.3 240.1,483.0 245.9,483.8 250.3,484.5 254.6,481.6 259.0,483.0 263.4,482.3 264.8,480.9 266.3,481.9 270.6,480.1 275.0,476.5 279.3,473.6 285.1,469.3 289.5,467.8 293.8,465.6 299.6,463.9 304.4,461.3 308.7,463.0 314.5,461.0 318.9,463.0 321.8,460.5 329.0,457.6 334.8,454.7 339.2,450.0 345.0,446.5 353.7,443.6 358.0,442.4 366.7,441.7 369.6,439.5 379.1,437.8 384.2,434.9 390.0,434.0 394.3,432.3 401.6,429.4 407.4,427.6 410.0,427.6 413.4,425.1 418.4,423.8 424.2,423.4 425.1,424.4 425.9,423.2 430.1,423.2 432.6,424.2 434.3,423.4 438.5,424.7 443.5,424.4 445.6,425.5 449.4,424.9 451.1,423.4 458.6,423.2 461.1,420.5 468.7,420.2 472.0,419.4 472.9,420.5 474.5,418.4 477.1,418.8 481.7,417.6 486.1,416.2 489.0,412.5 494.8,411.4 497.0,411.1 500.6,408.2 507.9,406.7 515.1,403.8 522.4,403.1 529.6,401.7 533.6,402.1 536.5,398.8 543.1,397.3 546.7,392.5 553.9,391.1 561.9,388.6 565.5,384.3 567.0,386.2 576.4,382.4 580.1,379.5 581.5,381.4 588.0,376.0 595.3,372.6 597.5,373.4 605.4,368.3 611.3,365.8 617.1,363.2 622.9,361.8 630.1,356.3 635.9,355.2 641.0,351.6 643.2,353.0 646.1,348.4" fill="none" stroke="#ff0080" stroke-width="1" stroke-linejoin="round" />
<polyline points="188.5,418.5 190.2,445.8 191.8,445.8 193.4,418.5 238.4,418.5 239.4,391.2 241.3,418.5 242.7,391.2 247.4,391.2 249.6,418.5 252.0,418.5 253.9,391.2 257.6,391.2 258.3,363.8 260.4,391.2 273.5,391.2 274.2,363.8 276.4,363.8 277.4,391.2 278.3,350.0 279.3,336.5 280.2,336.5 281.5,363.8 282.2,309.2 283.6,330.8 284.5,336.5 286.0,363.8 287.5,391.2 289.0,391.2 289.4,363.8 290.3,322.0 291.4,300.0 292.4,274.0 294.0,230.0 296.3,175.0 298.0,130.0 300.3,90.0 423.5,90.0 427.5,472.0 429.5,500.0 430.7,445.0 432.5,500.0 437.0,500.0 438.5,467.0 440.5,400.0 441.5,322.0 442.5,240.0 443.5,180.0 444.4,145.0 445.5,300.0 446.5,420.0 447.6,473.0 448.5,383.0 449.5,206.0 450.4,117.0 451.5,139.0 452.5,227.0 454.0,185.0 455.3,140.0 456.5,90.0 646.0,90.0" fill="none" stroke="#00ffff" stroke-width="1" stroke-linejoin="round" />
<polyline points="189.0,127.0 218.4,127.0 220.3,123.0 258.3,123.0 260.2,119.0 317.1,119.0 318.9,115.0 321.5,115.0 322.8,119.0 325.8,119.0 327.6,115.0 399.4,115.0 400.4,111.0 402.7,115.0 405.2,115.0 407.4,111.0 411.0,111.0 412.9,115.0 428.4,115.0 429.5,119.0 436.6,119.0 438.2,123.0 439.7,123.0 440.8,127.0 444.8,127.0 446.2,131.0 448.7,135.0 453.0,135.0 455.6,139.0 457.8,139.0 460.0,135.0 476.7,135.0 477.4,131.0 489.0,131.0 490.5,127.0 491.2,131.0 493.4,127.0 501.8,127.0 503.2,123.0 520.6,123.0 522.4,119.0 525.6,119.0 527.0,123.0 528.9,119.0 597.0,119.0 598.5,115.0 646.0,115.0" fill="none" stroke="#8080ff" stroke-width="1" stroke-linejoin="round" />
<polyline points="188.6,483.0 190.1,486.7 194.5,487.8 196.3,491.2 199.6,491.9 201.4,495.5 202.9,493.7 204.3,491.9 205.8,495.2 207.2,491.5 209.0,491.9 210.1,495.5 211.8,491.9 214.1,491.4 217.0,487.9 219.1,483.0 221.3,481.3 240.1,481.3 242.3,477.5 245.9,477.2 248.1,473.6 249.6,477.2 251.0,473.6 257.6,473.2 260.4,463.5 264.1,462.4 265.5,459.5 274.2,459.2 276.4,455.8 284.4,455.2 286.3,451.6 290.2,451.6 292.4,455.2 301.1,455.2 303.6,451.8 308.0,451.1 309.4,448.2 313.1,447.5 314.5,443.9 316.7,438.8 318.1,433.0 319.2,428.6 321.5,428.6 322.5,434.0 325.4,434.2 326.8,429.4 329.0,428.2 340.6,428.2 342.1,424.2 347.9,424.2 350.1,428.5 351.5,424.9 353.7,427.8 355.1,424.2 360.2,423.4 363.8,419.1 367.5,409.6 373.3,403.1 378.4,397.3 381.3,389.3 384.2,385.0 387.1,376.3 391.4,374.8 395.8,363.9 400.8,349.4 403.3,345.0 405.2,342.0 406.6,336.3 408.1,329.7 410.3,329.0 412.4,331.2 413.9,328.3 415.4,331.2 416.8,327.5 418.3,323.2 420.8,315.2 423.0,313.0 424.4,306.5 428.1,303.6 429.5,301.4 430.2,297.1 432.4,288.4 434.6,284.7 436.8,286.2 438.9,278.9 440.4,284.0 441.8,280.4 444.7,281.1 448.4,285.5 453.5,285.8 455.6,292.0 457.8,292.0 460.0,282.6 461.1,277.5 464.3,277.1 468.0,269.5 470.9,265.4 475.9,265.2 477.7,258.6 479.1,258.6 480.3,261.5 483.2,263.0 485.4,266.3 488.3,266.3 490.2,260.8 491.6,269.5 493.4,264.4 494.8,264.9 496.0,268.0 497.7,264.9 501.3,264.0 503.8,258.6 507.1,258.6 509.3,262.0 520.2,262.0 522.4,259.4 524.5,255.0 526.0,257.2 527.4,262.3 528.9,255.7 536.5,255.2 538.0,251.5 540.9,251.5 543.1,255.3 553.9,255.3 556.1,251.3 560.5,251.3 563.4,257.0 565.5,260.0 568.5,261.5 572.1,268.0 575.3,268.8 577.9,273.1 580.1,273.9 584.4,280.4 588.8,280.4 590.6,276.5 593.8,276.5 595.6,280.4 597.5,279.8 598.5,274.6 603.3,273.9 606.2,266.6 608.4,261.5 611.5,260.8 613.4,257.2 615.6,252.7 617.1,248.4 618.8,241.8 625.8,241.1 630.1,233.8 634.5,229.5 638.1,229.2 641.0,225.1 643.9,224.4 646.1,220.8" fill="none" stroke="#00ff00" stroke-width="1" stroke-linejoin="round" />
<polyline points="197.8,499.4 199.2,496.1 200.2,499.4 203.6,499.4 204.3,497.0 205.2,499.4 208.9,497.5 210.5,495.9 216.3,490.4 219.2,489.5 223.5,489.2 224.6,488.3 232.9,488.1 242.3,488.1 243.8,482.3 245.9,478.0 248.1,481.6 250.3,484.5 252.0,484.2 253.2,478.0 256.8,473.6 258.7,470.3 260.4,475.8 261.2,471.4 264.1,469.3 267.7,466.4 273.5,464.2 283.7,463.0 292.4,462.4 293.5,456.2 296.7,450.4 300.4,446.8 305.8,444.6 314.5,443.1 316.0,438.1 318.1,432.3 320.3,437.3 323.2,439.2 325.4,434.9 326.8,438.3 328.3,432.3 330.5,428.6 332.6,434.9 336.3,438.1 338.0,435.2 339.2,431.1 341.4,427.2 342.8,432.3 345.7,435.9 349.3,439.2 351.1,432.3 353.7,428.2 354.4,426.3 357.3,424.2 359.5,421.3 360.9,411.8 364.6,403.8 366.7,398.0 368.2,390.8 369.6,383.5 370.4,378.0 371.4,380.0 372.5,376.3 373.3,369.0 376.9,361.8 380.5,356.0 381.3,348.7 383.4,345.0 384.9,337.7 387.1,327.5 390.7,311.6 393.6,297.0 396.5,284.0 398.7,268.0 400.1,255.0 400.1,245.4 401.6,236.7 403.0,232.4 405.2,226.6 407.1,231.7 408.5,224.4 411.0,222.2 412.0,220.5 413.9,226.6 416.1,231.0 417.2,230.2 418.6,223.7 420.1,231.0 421.5,223.0 425.9,216.4 428.0,209.2 430.2,197.6 432.4,188.9 436.8,178.7 440.8,172.9 442.6,178.7 444.0,180.4 446.2,176.5 448.7,172.9 450.5,180.2 452.7,191.8 454.2,203.4 456.4,216.4 458.2,220.8 460.7,217.9 464.3,214.3 465.8,209.2 468.0,203.4 470.9,198.3 472.7,195.8 474.5,201.2 477.4,205.5 480.3,208.5 482.0,209.9 483.2,216.4 484.6,220.8 487.5,227.3 490.5,231.7 493.4,233.8 496.3,235.0 499.2,236.0 501.6,237.0 502.8,231.0 504.2,226.9 505.7,229.5 509.3,232.7 515.1,236.0 520.9,236.7 528.2,237.5 529.6,241.1 531.1,245.4 532.8,249.8 535.8,253.4 540.2,255.6 543.1,256.5 544.5,265.2 546.0,268.3 547.4,264.4 553.2,260.8 557.3,259.4 559.7,267.3 562.2,279.7 564.1,285.5 568.5,293.5 571.4,298.5 573.2,308.7 575.3,303.6 576.7,305.8 577.9,304.3 579.6,312.3 581.5,305.8 583.0,307.2 584.8,299.3 585.9,302.9 587.6,295.6 589.5,299.3 592.4,301.4 596.7,302.2 598.5,295.6 603.3,289.1 604.7,282.6 606.2,274.6 609.1,268.8 614.2,262.3 616.3,253.4 619.2,248.4 622.1,244.7 625.0,249.8 627.2,253.4 630.1,246.2 634.5,241.1 637.4,246.9 640.3,251.3 644.6,244.0 646.1,235.3" fill="none" stroke="#804000" stroke-width="1" stroke-linejoin="round" />
<polyline points="188.2,430.0 190.0,433.0 193.7,434.0 195.9,437.3 198.8,438.8 201.0,442.4 203.1,439.5 204.6,442.4 206.8,439.5 208.2,440.0 209.7,442.4 211.8,439.2 216.2,436.6 218.4,433.7 240.9,433.7 243.0,430.0 247.4,427.2 250.3,425.6 257.6,424.9 259.0,422.0 263.4,421.0 265.5,418.3 274.2,417.6 276.4,414.3 284.4,413.7 286.3,410.4 289.5,410.4 291.6,413.7 301.1,413.7 302.9,410.4 308.0,409.6 309.4,406.7 313.1,406.0 314.5,403.1 316.7,400.9 318.9,394.4 320.3,393.0 339.9,393.0 342.1,389.3 347.9,389.3 349.3,392.5 350.8,390.0 352.5,392.5 354.4,389.3 360.2,389.0 362.4,386.1 364.6,384.3 366.7,378.0 368.2,374.1 371.8,370.5 375.5,364.7 379.1,359.6 382.0,352.3 385.6,345.0 389.2,339.9 392.1,337.7 395.0,330.5 396.5,326.1 399.4,321.0 401.6,316.0 403.0,309.4 407.4,302.9 408.1,299.3 413.2,293.0 416.1,293.0 420.0,283.3 421.5,279.7 424.0,278.2 424.4,271.0 428.1,267.3 429.5,260.8 431.0,251.3 432.4,245.4 434.6,242.3 436.8,241.1 437.9,235.3 438.9,229.5 441.1,226.6 442.6,225.1 444.7,223.7 446.2,220.8 447.6,220.0 449.1,217.2 457.1,217.2 459.3,213.5 460.7,209.9 462.9,208.5 465.1,207.0 466.5,204.1 468.0,201.9 469.8,199.0 471.6,196.8 479.6,196.8 480.3,199.7 483.2,200.8 484.6,204.4 490.5,204.8 491.2,208.0 494.5,208.9 496.0,212.1 497.0,211.4 498.4,208.9 507.6,208.9 508.6,212.4 520.2,212.8 522.1,216.4 523.5,213.1 536.5,212.8 538.7,208.9 540.9,208.9 542.8,212.8 554.7,212.8 556.4,208.9 560.2,208.9 564.1,216.4 568.0,217.2 572.8,225.1 575.0,225.1 576.4,228.8 579.0,228.8 583.7,237.5 589.2,237.5 590.6,233.8 593.8,233.8 595.3,237.5 604.0,237.5 605.7,233.8 606.2,228.8 608.4,225.1 612.0,223.7 614.2,217.9 616.8,215.7 618.5,205.5 620.7,204.8 626.5,204.5 627.5,201.2 630.1,197.6 633.7,192.5 638.1,191.8 640.3,188.1 644.6,185.2 646.5,183.3" fill="none" stroke="#008000" stroke-width="2" stroke-linejoin="round" />
<polyline points="439.7,496.4 441.1,497.8 444.0,498.9 449.5,498.9" fill="none" stroke="#000" stroke-width="1" stroke-linejoin="round" />
<polyline points="472.3,496.4 474.0,498.0 476.7,498.9 481.0,498.9" fill="none" stroke="#000" stroke-width="1" stroke-linejoin="round" />
<rect x="439" y="397" width="2" height="2" fill="#808080"/><rect x="471" y="397" width="2" height="2" fill="#808080"/>
<rect x="188" y="499" width="459" height="1" fill="#a08060"/>
<line x1="188" x2="647" y1="499.5" y2="499.5" stroke="#ff8000" stroke-width="1" stroke-dasharray="1.2 1"/>
<rect x="467" y="480" width="4" height="20" fill="#ff8000"/><rect x="468" y="479" width="2" height="1" fill="#ff8000"/>
<rect x="454" y="484" width="2" height="16" fill="#0000ff"/>
<rect x="462" y="484" width="2" height="16" fill="#0000ff"/>
<rect x="468" y="484" width="2" height="16" fill="#0000ff"/>
<rect x="478" y="484" width="2" height="16" fill="#0000ff"/>
<rect x="494" y="484" width="2" height="16" fill="#0000ff"/>
<rect x="604" y="484" width="2" height="16" fill="#0000ff"/>
<polyline points="453.5,499.0 454.5,484.5 461.4,484.5 463.5,467.5 468.3,467.5 469.8,451.5 477.2,451.5 479.0,434.5 493.3,434.5 495.2,418.5" fill="none" stroke="#0000ff" stroke-width="1" stroke-linejoin="round" />
<rect x="495" y="417" width="109" height="2" fill="#0000ff"/>
<polyline points="603.5,418.5 604.5,410.0 605.5,402.5 646.0,402.5" fill="none" stroke="#0000ff" stroke-width="1" stroke-linejoin="round" />
</g>
<g shape-rendering="crispEdges">
<rect x="187" y="90" width="2" height="411" fill="#808080"/>
<rect x="646" y="90" width="3" height="411" fill="#808080"/>
</g>
<text transform="translate(188.5 519) scale(0.9 1)" fill="#000" stroke="#000" stroke-width="0.15" text-anchor="middle" font-size="12" font-weight="normal" >00:00</text>
<text transform="translate(226.5 519) scale(0.9 1)" fill="#000" stroke="#000" stroke-width="0.15" text-anchor="middle" font-size="12" font-weight="normal" >02:00</text>
<text transform="translate(265.5 519) scale(0.9 1)" fill="#000" stroke="#000" stroke-width="0.15" text-anchor="middle" font-size="12" font-weight="normal" >04:00</text>
<text transform="translate(303.5 519) scale(0.9 1)" fill="#000" stroke="#000" stroke-width="0.15" text-anchor="middle" font-size="12" font-weight="normal" >06:00</text>
<text transform="translate(341.5 519) scale(0.9 1)" fill="#000" stroke="#000" stroke-width="0.15" text-anchor="middle" font-size="12" font-weight="normal" >08:00</text>
<text transform="translate(380.5 519) scale(0.9 1)" fill="#000" stroke="#000" stroke-width="0.15" text-anchor="middle" font-size="12" font-weight="normal" >10:00</text>
<text transform="translate(418.5 519) scale(0.9 1)" fill="#000" stroke="#000" stroke-width="0.15" text-anchor="middle" font-size="12" font-weight="normal" >12:00</text>
<text transform="translate(456.5 519) scale(0.9 1)" fill="#000" stroke="#000" stroke-width="0.15" text-anchor="middle" font-size="12" font-weight="normal" >14:00</text>
<text transform="translate(495.5 519) scale(0.9 1)" fill="#000" stroke="#000" stroke-width="0.15" text-anchor="middle" font-size="12" font-weight="normal" >16:00</text>
<text transform="translate(533.5 519) scale(0.9 1)" fill="#000" stroke="#000" stroke-width="0.15" text-anchor="middle" font-size="12" font-weight="normal" >18:00</text>
<text transform="translate(571.5 519) scale(0.9 1)" fill="#000" stroke="#000" stroke-width="0.15" text-anchor="middle" font-size="12" font-weight="normal" >20:00</text>
<text transform="translate(610.5 519) scale(0.9 1)" fill="#000" stroke="#000" stroke-width="0.15" text-anchor="middle" font-size="12" font-weight="normal" >22:00</text>
<text transform="translate(648.5 519) scale(0.9 1)" fill="#000" stroke="#000" stroke-width="0.15" text-anchor="middle" font-size="12" font-weight="normal" >24:00</text>
<g shape-rendering="crispEdges">
<rect x="188" y="501" width="1" height="4" fill="#808080"/>
<rect x="226" y="501" width="1" height="4" fill="#808080"/>
<rect x="265" y="501" width="1" height="4" fill="#808080"/>
<rect x="303" y="501" width="1" height="4" fill="#808080"/>
<rect x="341" y="501" width="1" height="4" fill="#808080"/>
<rect x="380" y="501" width="1" height="4" fill="#808080"/>
<rect x="418" y="501" width="1" height="4" fill="#808080"/>
<rect x="456" y="501" width="1" height="4" fill="#808080"/>
<rect x="495" y="501" width="1" height="4" fill="#808080"/>
<rect x="533" y="501" width="1" height="4" fill="#808080"/>
<rect x="571" y="501" width="1" height="4" fill="#808080"/>
<rect x="610" y="501" width="1" height="4" fill="#808080"/>
<rect x="648" y="501" width="1" height="4" fill="#808080"/>
<rect x="337" y="496" width="2" height="13" fill="#ffff00"/>
<rect x="367" y="496" width="2" height="13" fill="#606060"/>
<rect x="522" y="496" width="2" height="13" fill="#ffff00"/>
<rect x="634" y="496" width="2" height="13" fill="#606060"/>
</g>
<text transform="translate(10.5 530) scale(0.9 1)" fill="#000" stroke="#000" stroke-width="0.15" text-anchor="start" font-size="12" font-weight="normal" >09:39</text>
<path d="M40 529V527L41 525.5L43 523.5H46L48 525.5L49 527V529Z" fill="#ffff00" shape-rendering="crispEdges"/>
<text transform="translate(305 530) scale(0.9 1)" fill="#000" stroke="#000" stroke-width="0.15" text-anchor="start" font-size="12" font-weight="normal" >07:50</text>
<g stroke="#ffff90" stroke-width="1"><path d="M338.5 519.5V532M332 525.5H345M334 521L343 530M343 521L334 530"/></g><circle cx="338.5" cy="525.5" r="3.4" fill="#ffff00"/>
<text transform="translate(376 530) scale(0.9 1)" fill="#000" stroke="#000" stroke-width="0.15" text-anchor="start" font-size="12" font-weight="normal" >09:22</text>
<path d="M365 520H368V524.5H370L366.5 529L363 524.5H365Z" fill="#ffff00" stroke="#303030" stroke-width="0.7"/><path d="M368 528.5H373" stroke="#4040ff" stroke-width="1" stroke-dasharray="1 1"/>
<text transform="translate(490 530) scale(0.9 1)" fill="#000" stroke="#000" stroke-width="0.15" text-anchor="start" font-size="12" font-weight="normal" >17:29</text>
<rect x="520.5" y="523.5" width="5" height="5" fill="none" stroke="#ffff00" stroke-width="1" shape-rendering="crispEdges"/>
<text transform="translate(642 530) scale(0.9 1)" fill="#000" stroke="#000" stroke-width="0.15" text-anchor="start" font-size="12" font-weight="normal" >23:17</text>
<rect x="630.5" y="520.5" width="5" height="5" fill="none" stroke="#4040ff" stroke-width="1" stroke-dasharray="1 1" shape-rendering="crispEdges"/>
<path d="M637.5 522L641 527H639V531H636V527H634Z" fill="#ffff00" stroke="#303030" stroke-width="0.6"/>
<g shape-rendering="crispEdges">
<rect x="0" y="534" width="835" height="86" fill="#c0c0c0"/>
<rect x="87" y="534" width="1" height="86" fill="#fff"/>
<rect x="88" y="534" width="1" height="86" fill="#a4a4a4"/>
<rect x="204" y="534" width="1" height="86" fill="#fff"/>
<rect x="205" y="534" width="1" height="86" fill="#a4a4a4"/>
<rect x="322" y="534" width="1" height="86" fill="#fff"/>
<rect x="323" y="534" width="1" height="86" fill="#a4a4a4"/>
<rect x="440" y="534" width="1" height="86" fill="#fff"/>
<rect x="441" y="534" width="1" height="86" fill="#a4a4a4"/>
<rect x="558" y="534" width="1" height="86" fill="#fff"/>
<rect x="559" y="534" width="1" height="86" fill="#a4a4a4"/>
<rect x="676" y="534" width="1" height="86" fill="#fff"/>
<rect x="677" y="534" width="1" height="86" fill="#a4a4a4"/>
<rect x="794" y="534" width="1" height="86" fill="#fff"/>
<rect x="795" y="534" width="1" height="86" fill="#a4a4a4"/>
</g>
<text transform="translate(8 551.5) scale(0.995 1)" fill="#000" stroke="#000" stroke-width="0.15" text-anchor="start" font-size="12" font-weight="bold" >Sensor</text>
<text transform="translate(8 567.5) scale(0.995 1)" fill="#000" stroke="#000" stroke-width="0.15" text-anchor="start" font-size="12" font-weight="bold" >MinWert</text>
<text transform="translate(8 583.5) scale(0.995 1)" fill="#000" stroke="#000" stroke-width="0.15" text-anchor="start" font-size="12" font-weight="bold" >MaxWert</text>
<text transform="translate(8 599.5) scale(0.995 1)" fill="#000" stroke="#000" stroke-width="0.15" text-anchor="start" font-size="12" font-weight="bold" >Durchschnitt</text>
<text transform="translate(8 615.5) scale(1.07 1)" fill="#000" stroke="#000" stroke-width="0.15" text-anchor="start" font-size="12" font-weight="bold" >06.02. 23:55</text>
<text transform="translate(95 551.5) scale(1.04 1)" fill="#000" stroke="#000" stroke-width="0.15" text-anchor="start" font-size="12" font-weight="bold" >T- 2m aktiv</text>
<text transform="translate(199 551.5) scale(0.995 1)" fill="#000" stroke="#000" stroke-width="0.15" text-anchor="end" font-size="12" font-weight="bold" >°C</text>
<text transform="translate(101 567.5) scale(0.9 1)" fill="#000" stroke="#000" stroke-width="0.15" text-anchor="start" font-size="12" font-weight="normal" >00:40</text>
<text transform="translate(199 567.5) scale(0.9 1)" fill="#000" stroke="#000" stroke-width="0.15" text-anchor="end" font-size="12" font-weight="normal" >-0.6</text>
<text transform="translate(101 583.5) scale(0.9 1)" fill="#000" stroke="#000" stroke-width="0.15" text-anchor="start" font-size="12" font-weight="normal" >23:50</text>
<text transform="translate(199 583.5) scale(0.9 1)" fill="#000" stroke="#000" stroke-width="0.15" text-anchor="end" font-size="12" font-weight="normal" >5.7</text>
<text transform="translate(101 599.5) scale(0.9 1)" fill="#000" stroke="#000" stroke-width="0.15" text-anchor="start" font-size="12" font-weight="normal" >( - 0.71 )</text>
<text transform="translate(199 599.5) scale(0.9 1)" fill="#000" stroke="#000" stroke-width="0.15" text-anchor="end" font-size="12" font-weight="normal" >2.69</text>
<text transform="translate(199 615.5) scale(1.07 1)" fill="#000" stroke="#000" stroke-width="0.15" text-anchor="end" font-size="12" font-weight="bold" >5.7</text>
<text transform="translate(212 551.5) scale(1.04 1)" fill="#000" stroke="#000" stroke-width="0.15" text-anchor="start" font-size="12" font-weight="bold" >F- 2m aktiv</text>
<text transform="translate(316 551.5) scale(0.995 1)" fill="#000" stroke="#000" stroke-width="0.15" text-anchor="end" font-size="12" font-weight="bold" >%</text>
<text transform="translate(219 567.5) scale(0.9 1)" fill="#000" stroke="#000" stroke-width="0.15" text-anchor="start" font-size="12" font-weight="normal" >13:55</text>
<text transform="translate(316 567.5) scale(0.9 1)" fill="#000" stroke="#000" stroke-width="0.15" text-anchor="end" font-size="12" font-weight="normal" >88</text>
<text transform="translate(219 583.5) scale(0.9 1)" fill="#000" stroke="#000" stroke-width="0.15" text-anchor="start" font-size="12" font-weight="normal" >11:05</text>
<text transform="translate(316 583.5) scale(0.9 1)" fill="#000" stroke="#000" stroke-width="0.15" text-anchor="end" font-size="12" font-weight="normal" >95</text>
<text transform="translate(316 599.5) scale(0.9 1)" fill="#000" stroke="#000" stroke-width="0.15" text-anchor="end" font-size="12" font-weight="normal" >93</text>
<text transform="translate(216 615.5) scale(0.9 1)" fill="#000" stroke="#000" stroke-width="0.15" text-anchor="start" font-size="12" font-weight="normal" >6.69 g/m³</text>
<text transform="translate(316 615.5) scale(1.07 1)" fill="#000" stroke="#000" stroke-width="0.15" text-anchor="end" font-size="12" font-weight="bold" >94</text>
<text transform="translate(330 551.5) scale(0.995 1)" fill="#000" stroke="#000" stroke-width="0.15" text-anchor="start" font-size="12" font-weight="bold" >Luftdruck</text>
<text transform="translate(434 551.5) scale(0.995 1)" fill="#000" stroke="#000" stroke-width="0.15" text-anchor="end" font-size="12" font-weight="bold" >hPa</text>
<text transform="translate(337 567.5) scale(0.9 1)" fill="#000" stroke="#000" stroke-width="0.15" text-anchor="start" font-size="12" font-weight="normal" >03:15</text>
<text transform="translate(434 567.5) scale(0.9 1)" fill="#000" stroke="#000" stroke-width="0.15" text-anchor="end" font-size="12" font-weight="normal" >988.2</text>
<text transform="translate(337 583.5) scale(0.9 1)" fill="#000" stroke="#000" stroke-width="0.15" text-anchor="start" font-size="12" font-weight="normal" >23:50</text>
<text transform="translate(434 583.5) scale(0.9 1)" fill="#000" stroke="#000" stroke-width="0.15" text-anchor="end" font-size="12" font-weight="normal" >999.2</text>
<text transform="translate(330 599.5) scale(0.9 1)" fill="#000" stroke="#000" stroke-width="0.15" text-anchor="start" font-size="12" font-weight="normal" >^1.1hPa/h</text>
<text transform="translate(434 599.5) scale(0.9 1)" fill="#000" stroke="#000" stroke-width="0.15" text-anchor="end" font-size="12" font-weight="normal" >992.8</text>
<text transform="translate(330 615.5) scale(0.9 1)" fill="#000" stroke="#000" stroke-width="0.15" text-anchor="start" font-size="12" font-weight="normal" >bewölkt</text>
<text transform="translate(434 615.5) scale(1.07 1)" fill="#000" stroke="#000" stroke-width="0.15" text-anchor="end" font-size="12" font-weight="bold" >999.1</text>
<rect x="393" y="606" width="8" height="14" fill="#fff"/>
<path d="M397.2 608V617M394 611L397.2 607.3L400.4 611" fill="none" stroke="#000" stroke-width="1.7"/>
<text transform="translate(448 551.5) scale(0.995 1)" fill="#000" stroke="#000" stroke-width="0.15" text-anchor="start" font-size="12" font-weight="bold" >Windböen</text>
<text transform="translate(552 551.5) scale(0.995 1)" fill="#000" stroke="#000" stroke-width="0.15" text-anchor="end" font-size="12" font-weight="bold" >km/h</text>
<text transform="translate(448 567.5) scale(0.9 1)" fill="#000" stroke="#000" stroke-width="0.15" text-anchor="start" font-size="12" font-weight="normal" >Ø 10 min.</text>
<text transform="translate(552 567.5) scale(0.9 1)" fill="#000" stroke="#000" stroke-width="0.15" text-anchor="end" font-size="12" font-weight="normal" >0.0</text>
<text transform="translate(455 583.5) scale(0.9 1)" fill="#000" stroke="#000" stroke-width="0.15" text-anchor="start" font-size="12" font-weight="normal" >16:15</text>
<text transform="translate(552 583.5) scale(0.9 1)" fill="#000" stroke="#000" stroke-width="0.15" text-anchor="end" font-size="12" font-weight="normal" >O 11.3</text>
<text transform="translate(552 599.5) scale(0.9 1)" fill="#000" stroke="#000" stroke-width="0.15" text-anchor="end" font-size="12" font-weight="normal" >0.6</text>
<text transform="translate(455 615.5) scale(0.9 1)" fill="#000" stroke="#000" stroke-width="0.15" text-anchor="start" font-size="12" font-weight="normal" >0 Bft N</text>
<text transform="translate(552 615.5) scale(1.07 1)" fill="#000" stroke="#000" stroke-width="0.15" text-anchor="end" font-size="12" font-weight="bold" >0.0</text>
<text transform="translate(566 551.5) scale(0.995 1)" fill="#000" stroke="#000" stroke-width="0.15" text-anchor="start" font-size="12" font-weight="bold" >Regen</text>
<text transform="translate(670 551.5) scale(0.995 1)" fill="#000" stroke="#000" stroke-width="0.15" text-anchor="end" font-size="12" font-weight="bold" >l/m²</text>
<text transform="translate(566 567.5) scale(0.9 1)" fill="#000" stroke="#000" stroke-width="0.15" text-anchor="start" font-size="12" font-weight="normal" >23:25 h</text>
<text transform="translate(573 583.5) scale(0.9 1)" fill="#000" stroke="#000" stroke-width="0.15" text-anchor="start" font-size="12" font-weight="normal" >13:55</text>
<text transform="translate(670 583.5) scale(0.9 1)" fill="#000" stroke="#000" stroke-width="0.15" text-anchor="end" font-size="12" font-weight="normal" >0.2</text>
<text transform="translate(566 599.5) scale(0.9 1)" fill="#000" stroke="#000" stroke-width="0.15" text-anchor="start" font-size="12" font-weight="normal" >Gesamt:</text>
<text transform="translate(670 599.5) scale(0.9 1)" fill="#000" stroke="#000" stroke-width="0.15" text-anchor="end" font-size="12" font-weight="normal" >1.2</text>
<text transform="translate(570 615.5) scale(0.9 1)" fill="#000" stroke="#000" stroke-width="0.15" text-anchor="start" font-size="12" font-weight="normal" >1.2 l/m²</text>
<text transform="translate(670 615.5) scale(1.07 1)" fill="#000" stroke="#000" stroke-width="0.15" text-anchor="end" font-size="12" font-weight="bold" >0.0</text>
<text transform="translate(684 551.5) scale(0.995 1)" fill="#000" stroke="#000" stroke-width="0.15" text-anchor="start" font-size="12" font-weight="bold" >PMV 0:8</text>
<text transform="translate(684 567.5) scale(0.9 1)" fill="#000" stroke="#000" stroke-width="0.15" text-anchor="start" font-size="12" font-weight="normal" >WC 5.7 °C</text>
<text transform="translate(684 583.5) scale(0.9 1)" fill="#000" stroke="#000" stroke-width="0.15" text-anchor="start" font-size="12" font-weight="normal" >TP 4.8 °C</text>
<text transform="translate(684 599.5) scale(0.9 1)" fill="#000" stroke="#000" stroke-width="0.15" text-anchor="start" font-size="12" font-weight="normal" >2.1hPa/3h</text>
<text transform="translate(684 615.5) scale(0.9 1)" fill="#000" stroke="#000" stroke-width="0.15" text-anchor="start" font-size="12" font-weight="normal" >0.7hPa/1h</text>
</svg></body></html>
